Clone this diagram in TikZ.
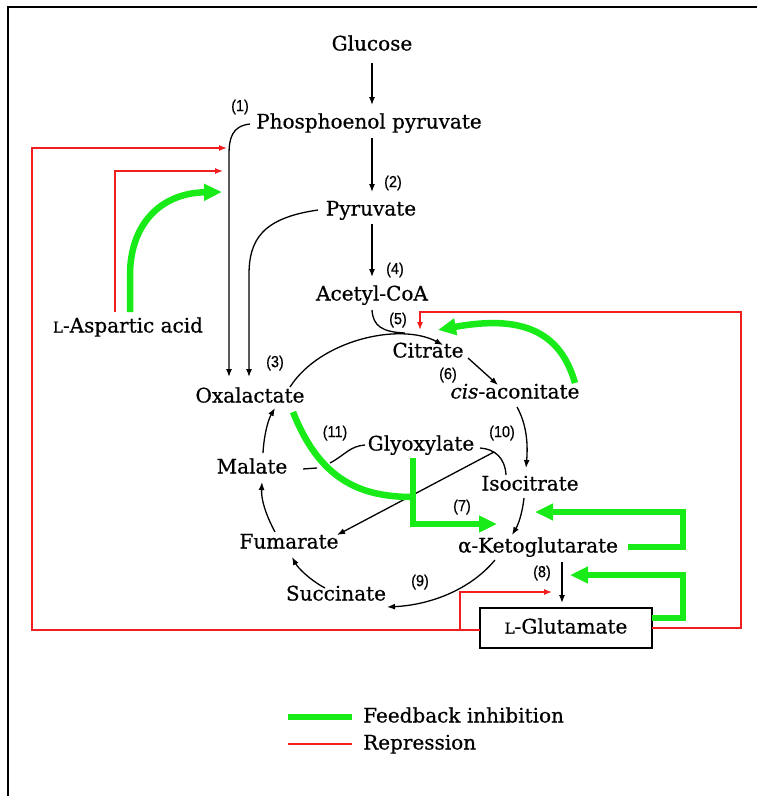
\documentclass[tikz,border=0pt]{standalone}
\usepackage{fontspec}
\setmainfont[FakeBold=0.6]{DejaVu Serif}
\newfontfamily\numfont[FakeStretch=0.9,FakeBold=0.5]{Liberation Sans}
\usetikzlibrary{arrows.meta,calc}
\definecolor{fbgreen}{RGB}{25,235,25}
\definecolor{repred}{RGB}{240,30,30}
\newcommand\smallL{{\fontsize{15}{15}\selectfont L}}

\begin{document}
\begin{tikzpicture}[x=1pt,y=-1pt,
  met/.style={font=\fontsize{20}{24}\selectfont, inner sep=0pt, text height=15pt, text depth=4pt},
  num/.style={font=\numfont\fontsize{16}{18}\selectfont, inner sep=0pt},
  rxn/.style={line width=1.3pt, -{Latex[length=8pt,width=6pt]}},
  plain/.style={line width=1.3pt},
  fb/.style={fbgreen, line width=6.5pt, -{Triangle[length=18pt,width=16pt]}},
  fbline/.style={fbgreen, line width=6.5pt},
  rep/.style={repred, line width=1.2pt, -{Latex[length=8pt,width=6pt]}},
  repline/.style={repred, line width=1.2pt},
  frame/.style={line width=2.5pt}]

\useasboundingbox (0,0) rectangle (757,796);
\fill[white] (0,0) rectangle (757,796);
\draw[frame] (8,796) -- (8,7) -- (757,7);

% metabolites
\node[met] (glc) at (372,45)  {Glucose};
\node[met] (pep) at (369,123) {Phosphoenol pyruvate};
\node[met] (pyr) at (371,210) {Pyruvate};
\node[met] (acc) at (372,295) {Acetyl-CoA};
\node[met] (cit) at (428,352) {Citrate};
\node[met] (cis) at (515,393) {\textit{cis}-aconitate};
\node[met] (oxa) at (250,397) {Oxalactate};
\node[met] (gly) at (421,445) {Glyoxylate};
\node[met] (mal) at (252,468) {Malate};
\node[met] (iso) at (530,485) {Isocitrate};
\node[met] (fum) at (289,543) {Fumarate};
\node[met] (akg) at (538,547) {α-Ketoglutarate};
\node[met] (suc) at (336,595) {Succinate};
\node[met] (asp) at (128,327) {\smallL-Aspartic acid};
\node[met, draw, line width=1.5pt, minimum width=172pt, minimum height=40pt] (glu) at (566,628) {\smallL-Glutamate};

% enzyme step numbers
\node[num] (n1)  at (240,107) {(1)};
\node[num] (n2)  at (393,183) {(2)};
\node[num] (n3)  at (275,363) {(3)};
\node[num] (n4)  at (395,270) {(4)};
\node[num] (n5)  at (398,320) {(5)};
\node[num] (n6)  at (448,375) {(6)};
\node[num] (n7)  at (462,507) {(7)};
\node[num] (n8)  at (542,573) {(8)};
\node[num] (n9)  at (420,582) {(9)};
\node[num] (n10) at (502,433) {(10)};
\node[num] (n11) at (335,433) {(11)};

% reactions
\draw[rxn] ($(glc)+(0,18)$) -- ($(pep)+(3,-18)$);
\draw[rxn] ($(pep)+(3,15)$) -- ($(pyr)+(1,-18)$);
\draw[rxn] ($(pyr)+(1,14)$) -- ($(acc)+(0,-18)$);
\draw[rxn] ($(pep)+(-119,1)$) .. controls ($(pep)+(-137,3)$) and ($(oxa)+(-21,-259)$) .. ($(oxa)+(-21,-242)$) -- ($(oxa)+(-21,-20)$);
\draw[rxn] ($(pyr)+(-53,0)$) .. controls ($(pyr)+(-109,8)$) and ($(oxa)+(-1,-157)$) .. ($(oxa)+(-1,-122)$) -- ($(oxa)+(-1,-20)$);
\draw[rxn] ($(oxa)+(40,-10)$) .. controls ($(oxa)+(70,-57)$) and ($(cit)+(-28,-30)$) .. ($(cit)+(15,-7)$);
\draw[plain] ($(acc)+(0,15)$) .. controls ($(acc)+(1,31)$) and ($(cit)+(-46,-20)$) .. ($(cit)+(-23,-19)$);
\draw[rxn] ($(cit)+(40,6)$) -- ($(cis)+(-17,-8)$);
\draw[rxn] ($(cis)+(2,14)$) .. controls ($(cis)+(12,32)$) and ($(iso)+(-2,-40)$) .. ($(iso)+(-4,-17)$);
\draw[rxn] ($(iso)+(-6,13)$) .. controls ($(iso)+(-8,30)$) and ($(akg)+(-20,-22)$) .. ($(akg)+(-26,-12)$);
\draw[rxn] ($(akg)+(-43,13)$) .. controls ($(akg)+(-68,43)$) and ($(suc)+(94,10)$) .. ($(suc)+(51,12)$);
\draw[rxn] ($(suc)+(-11,-7)$) .. controls ($(suc)+(-26,-15)$) and ($(fum)+(9,25)$) .. ($(fum)+(3,14)$);
\draw[rxn] ($(fum)+(-14,-11)$) .. controls ($(fum)+(-23,-28)$) and ($(mal)+(9,32)$) .. ($(mal)+(10,14)$);
\draw[rxn] ($(mal)+(11,-15)$) .. controls ($(mal)+(12,-33)$) and ($(oxa)+(18,23)$) .. ($(oxa)+(25,11)$);
\draw[rxn] ($(akg)+(24,15)$) -- ($(glu)+(-4,-25)$);
% isocitrate lyase and malate synthase
\draw[plain] ($(gly)+(59,3)$) .. controls ($(gly)+(74,4)$) and ($(iso)+(-25,-27)$) .. ($(iso)+(-24,-10)$);
\draw[rxn] ($(gly)+(73,7)$) -- ($(fum)+(48,-8)$);
\draw[plain] ($(mal)+(51,1)$) -- ($(mal)+(65,0)$);
\draw[plain] ($(gly)+(-91,18)$) .. controls ($(gly)+(-76,10)$) and ($(gly)+(-71,1)$) .. ($(gly)+(-56,0)$);

% repression
\draw[rep] ($(glu)+(-86,2)$) -- ($(glu)+(-534,2)$) -- ($(pep)+(-337,25)$) -- ($(pep)+(-142,25)$);
\draw[rep] ($(glu)+(-106,2)$) -- ($(glu)+(-106,-36)$) -- ($(glu)+(-14,-36)$);
\draw[rep] ($(asp)+(-13,-15)$) -- ($(asp)+(-13,-156)$) -- ($(pep)+(-146,48)$);
\draw[rep] ($(glu)+(86,0)$) -- ($(glu)+(175,0)$) -- ($(glu)+(175,-316)$) -- ($(cit)+(-8,-40)$) -- ($(cit)+(-8,-22)$);

% feedback inhibition
\draw[fb] ($(asp)+(2,-15)$) -- ($(asp)+(2,-52)$) .. controls ($(asp)+(2,-102)$) and ($(pep)+(-209,70)$) .. ($(pep)+(-147,69)$);
\draw[fb] ($(cis)+(60,-10)$) .. controls ($(cis)+(45,-63)$) and ($(cit)+(92,-37)$) .. ($(cit)+(10,-22)$);
\draw[fbline] ($(oxa)+(43,15)$) .. controls ($(oxa)+(70,83)$) and ($(gly)+(-61,52)$) .. ($(gly)+(-8,52)$);
\draw[fb] ($(gly)+(-8,13)$) -- ($(gly)+(-8,79)$) -- ($(akg)+(-41,-23)$);
\draw[fb] ($(akg)+(90,0)$) -- ($(akg)+(145,0)$) -- ($(iso)+(153,27)$) -- ($(iso)+(5,27)$);
\draw[fb] ($(glu)+(86,-10)$) -- ($(glu)+(117,-10)$) -- ($(akg)+(145,28)$) -- ($(akg)+(32,28)$);

% legend
\coordinate (lg1) at (288,717);
\coordinate (lg2) at (288,744);
\draw[fbline] (lg1) -- ++(64,0);
\draw[repline] (lg2) -- ++(64,0);
\node[met, anchor=west] (lgt1) at (363,717) {Feedback inhibition};
\node[met, anchor=west] (lgt2) at (363,744) {Repression};
\end{tikzpicture}
\end{document}
